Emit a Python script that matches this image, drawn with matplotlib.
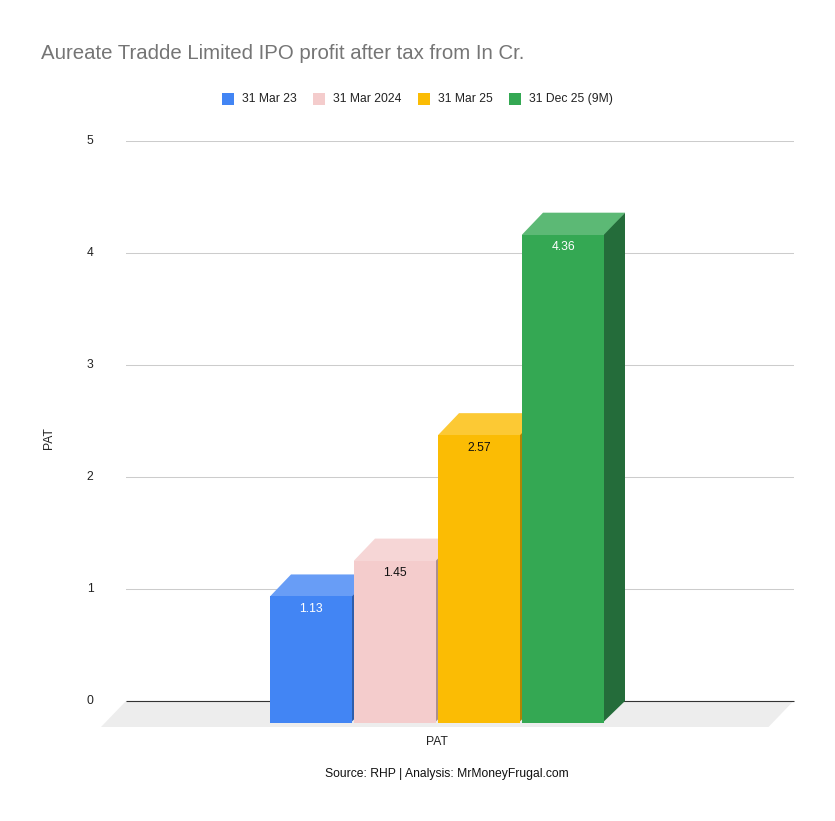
import matplotlib
matplotlib.use("Agg")
import matplotlib.pyplot as plt
from matplotlib.patches import Polygon, Rectangle

plt.rcParams['font.family'] = ['Liberation Sans', 'DejaVu Sans']

title = "Aureate Tradde Limited IPO profit after tax from In Cr."
categories = ["31 Mar 23", "31 Mar 2024", "31 Mar 25", "31 Dec 25 (9M)"]
values = [1.13, 1.45, 2.57, 4.36]
labels = ["1.13", "1.45", "2.57", "4.36"]
front_colors = ["#4285F4", "#F4CCCC", "#FBBC04", "#34A853"]
top_colors = ["#689DF6", "#F6D6D6", "#FCC934", "#5CB975"]
side_colors = ["#2E5DAB", "#AB8F8F", "#B08403", "#246C3A"]
label_colors = ["white", "#111111", "#111111", "white"]
yticks = [0, 1, 2, 3, 4, 5]

W, H = 835, 821
fig = plt.figure(figsize=(W / 100, H / 100), dpi=100, facecolor="white")
L, R, T, B = 126, 793.5, 141, 701
ax = fig.add_axes([L / W, 1 - B / H, (R - L) / W, (B - T) / H])
unit = 84
xmin = -(333 - L) / unit
ax.set_xlim(xmin, xmin + (R - L) / unit)
ax.set_ylim(0, 5)
ax.patch.set_alpha(0)
for s in ax.spines.values():
    s.set_visible(False)

dx = 21 / unit
dy = 22 / 112
fdx = 25 / unit
fdy = 26 / 112
x0, x1 = ax.get_xlim()

# floor
ax.add_patch(Polygon([(x0, 0), (x1, 0), (x1 - fdx, -fdy), (x0 - fdx, -fdy)],
                     closed=True, fc="#EDEDED", ec="none", clip_on=False, zorder=1))
# gridlines
ax.set_yticks(yticks)
ax.set_xticks([])
ax.yaxis.grid(True, color="#CCCCCC", lw=0.75, zorder=2)
ax.set_axisbelow(True)
ax.tick_params(axis="y", length=0, pad=23.4, labelsize=8.7, labelcolor="#222222")
for t in ax.get_yticklabels():
    t.set_verticalalignment("center")
ax.plot([x0, x1], [0, 0], color="#333333", lw=0.8, zorder=3, solid_capstyle="butt", clip_on=False)

# 3D bars
w = 82 / unit
seam = 0.02
for i, v in enumerate(values):
    z = 5 + i
    l = i - 0.5 - dx
    r = l + w
    ax.add_patch(Polygon([(r - seam, -dy), (r + dx, 0), (r + dx, v), (r - seam, v - dy)], closed=True,
                         fc=side_colors[i], ec="none", clip_on=False, zorder=z))
    ax.add_patch(Polygon([(l, v - dy - seam), (r, v - dy - seam), (r, v - dy), (r + dx, v), (l + dx, v), (l, v - dy)],
                         closed=True, fc=top_colors[i], ec="none", clip_on=False, zorder=z))
    ax.bar(l + w / 2, v, width=w, bottom=-dy, color=front_colors[i], clip_on=False, zorder=z + 0.5)
    ax.annotate(labels[i], (l + w / 2, v - dy), xytext=(0, -4.7), textcoords="offset points",
                ha="center", va="top", fontsize=8.7, color=label_colors[i], zorder=20)

# text
fig.text(41 / W, 1 - 59 / H, title, fontsize=14.65, color="#757575", ha="left", va="baseline")
fig.text(49 / W, 1 - 438.5 / H, "PAT", rotation=90, fontsize=8.7, color="#222222", ha="center", va="center")
fig.text(437 / W, 1 - 741.5 / H, "PAT", fontsize=8.7, color="#222222", ha="center", va="center")
fig.text(447 / W, 1 - 773.5 / H, "Source: RHP | Analysis: MrMoneyFrugal.com", fontsize=8.7, color="#111111",
         ha="center", va="center")

# legend
square_x = [222, 313, 418, 509]
for sx, name, c in zip(square_x, categories, front_colors):
    fig.patches.append(Rectangle((sx / W, 1 - 105 / H), 12 / W, 12 / H, transform=fig.transFigure,
                                 fc=c, ec="none", figure=fig))
    fig.text((sx + 20) / W, 1 - 99 / H, name, fontsize=8.7, color="#222222", ha="left", va="center")

fig.savefig("out.png", dpi=100)
